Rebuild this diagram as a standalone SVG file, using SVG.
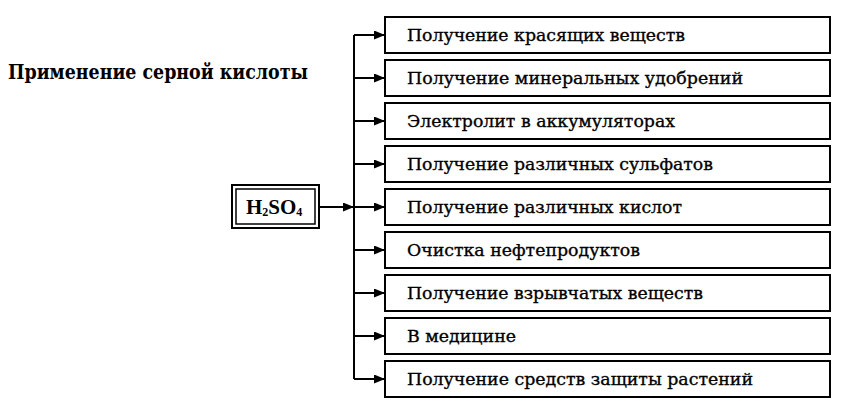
<svg xmlns="http://www.w3.org/2000/svg" width="849" height="405" viewBox="0 0 849 405">
<defs>
<marker id="ah" markerWidth="11" markerHeight="9" refX="11" refY="4.5" orient="auto" markerUnits="userSpaceOnUse">
<path d="M0,0 L11,4.5 L0,9 Z" fill="#000"/>
</marker>
<style>
.box{fill:#fff;stroke:#000;stroke-width:2}
.t{font-family:"DejaVu Serif","Liberation Serif",serif;font-size:17px;fill:#000;stroke:#000;stroke-width:0.35}
.ln{stroke:#000;stroke-width:2;fill:none}
</style>
</defs>
<rect width="849" height="405" fill="#fff"/>
<text x="8" y="79" font-family="DejaVu Serif, Liberation Serif, serif" font-weight="bold" font-size="21" fill="#000" textLength="300" lengthAdjust="spacingAndGlyphs">Применение серной кислоты</text>
<g id="h2so4">
<rect x="232" y="185" width="87" height="43" class="box"/>
<rect x="236" y="189" width="79" height="35" fill="none" stroke="#000" stroke-width="1.5"/>
<text x="246" y="214" font-family="Liberation Serif, serif" font-weight="bold" font-size="21" fill="#000">H<tspan font-size="12" dy="2">2</tspan><tspan dy="-2">SO</tspan><tspan font-size="12" dy="2">4</tspan></text>
</g>
<g id="connectors">
<line x1="354" y1="35" x2="354" y2="379" class="ln"/>
<line x1="319" y1="207" x2="354" y2="207" class="ln" marker-end="url(#ah)"/>
<line x1="354" y1="35" x2="385" y2="35" class="ln" marker-end="url(#ah)"/>
<line x1="354" y1="78" x2="385" y2="78" class="ln" marker-end="url(#ah)"/>
<line x1="354" y1="121" x2="385" y2="121" class="ln" marker-end="url(#ah)"/>
<line x1="354" y1="164" x2="385" y2="164" class="ln" marker-end="url(#ah)"/>
<line x1="354" y1="207" x2="385" y2="207" class="ln" marker-end="url(#ah)"/>
<line x1="354" y1="250" x2="385" y2="250" class="ln" marker-end="url(#ah)"/>
<line x1="354" y1="293" x2="385" y2="293" class="ln" marker-end="url(#ah)"/>
<line x1="354" y1="336" x2="385" y2="336" class="ln" marker-end="url(#ah)"/>
<line x1="354" y1="379" x2="385" y2="379" class="ln" marker-end="url(#ah)"/>
</g>
<g id="n1"><rect x="385" y="17" width="445" height="36" class="box"/><text x="407" y="41" class="t" textLength="278" lengthAdjust="spacingAndGlyphs">Получение красящих веществ</text></g>
<g id="n2"><rect x="385" y="60" width="445" height="36" class="box"/><text x="407" y="84" class="t" textLength="336" lengthAdjust="spacingAndGlyphs">Получение минеральных удобрений</text></g>
<g id="n3"><rect x="385" y="103" width="445" height="36" class="box"/><text x="407" y="127" class="t" textLength="268" lengthAdjust="spacingAndGlyphs">Электролит в аккумуляторах</text></g>
<g id="n4"><rect x="385" y="146" width="445" height="36" class="box"/><text x="407" y="170" class="t" textLength="306" lengthAdjust="spacingAndGlyphs">Получение различных сульфатов</text></g>
<g id="n5"><rect x="385" y="189" width="445" height="36" class="box"/><text x="407" y="213" class="t" textLength="275" lengthAdjust="spacingAndGlyphs">Получение различных кислот</text></g>
<g id="n6"><rect x="385" y="232" width="445" height="36" class="box"/><text x="407" y="256" class="t" textLength="233" lengthAdjust="spacingAndGlyphs">Очистка нефтепродуктов</text></g>
<g id="n7"><rect x="385" y="275" width="445" height="36" class="box"/><text x="407" y="299" class="t" textLength="296" lengthAdjust="spacingAndGlyphs">Получение взрывчатых веществ</text></g>
<g id="n8"><rect x="385" y="318" width="445" height="36" class="box"/><text x="407" y="342" class="t" textLength="109" lengthAdjust="spacingAndGlyphs">В медицине</text></g>
<g id="n9"><rect x="385" y="361" width="445" height="36" class="box"/><text x="407" y="385" class="t" textLength="346" lengthAdjust="spacingAndGlyphs">Получение средств защиты растений</text></g>
</svg>
